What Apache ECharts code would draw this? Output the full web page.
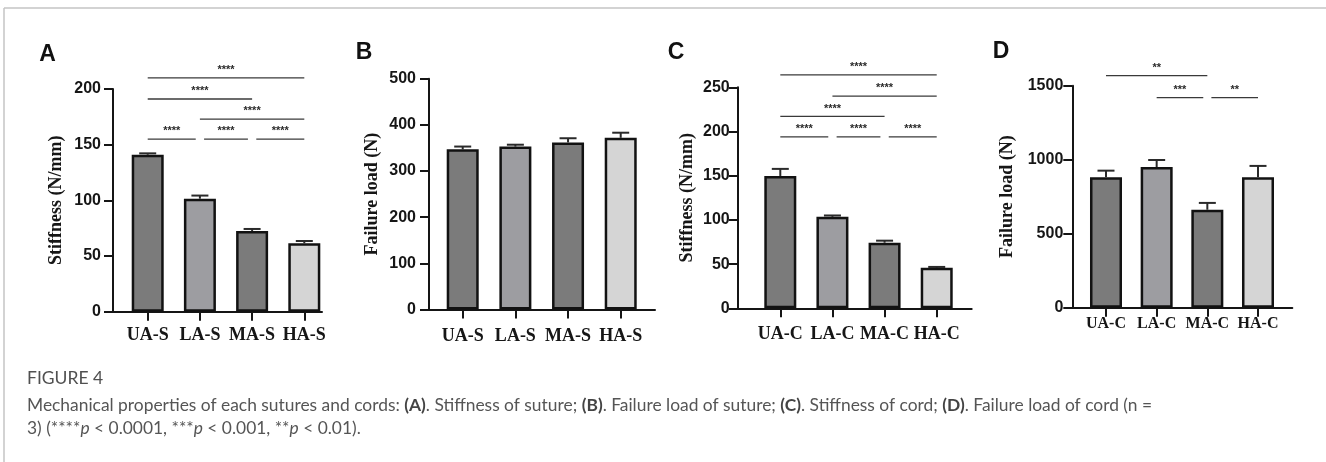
<!DOCTYPE html>
<html>
<head>
<meta charset="utf-8">
<script src="https://cdn.jsdelivr.net/npm/echarts@6/dist/echarts.min.js"></script>
<style>
html,body{margin:0;padding:0;background:#fff;}
#c{width:1326px;height:462px;}
</style>
</head>
<body>
<div id="c"></div>
<script>
// ---------------- DATA ----------------
const catsSuture = ['UA-S', 'LA-S', 'MA-S', 'HA-S'];
const catsCord = ['UA-C', 'LA-C', 'MA-C', 'HA-C'];

const stiffSuture = [141, 101.5, 72.5, 61.5];
const stiffSutureErr = [1.2, 2.8, 1.8, 2.0];

const loadSuture = [347, 353, 362, 372];
const loadSutureErr = [6, 4, 9, 11];

const stiffCord = [149.7, 103.5, 74.2, 45.8];
const stiffCordErr = [8, 1.5, 2.3, 1.0];

const loadCord = [882, 950, 662, 882];
const loadCordErr = [44, 48, 46, 76];

// significance brackets: [fromCategory, toCategory, level, label]
const sigA = [[0, 3, 210, '****'], [0, 2, 191, '****'], [1, 3, 173, '****'],
              [0, 0.92, 155, '****'], [1.08, 1.92, 155, '****'], [2.08, 3, 155, '****']];
const sigB = [];
const sigC = [[0, 3, 264, '****'], [1, 3, 240, '****'], [0, 2, 217, '****'],
              [0, 0.92, 194, '****'], [1.08, 1.92, 194, '****'], [2.08, 3, 194, '****']];
const sigD = [[0, 2, 1568, '**'], [1, 1.92, 1419, '***'], [2.08, 3, 1419, '**']];

const yTicksA = [0, 50, 100, 150, 200];
const yTicksB = [0, 100, 200, 300, 400, 500];
const yTicksC = [0, 50, 100, 150, 200, 250];
const yTicksD = [0, 500, 1000, 1500];

const panelLetters = ['A', 'B', 'C', 'D'];
const yNames = ['Stiffness (N/mm)', 'Failure load (N)', 'Stiffness (N/mm)', 'Failure load (N)'];

// ---------------- LAYOUT / STYLE ----------------
const barColors = ['#7b7b7b', '#9d9da1', '#7b7b7b', '#d5d5d5'];
const panels = [
  {cats: catsSuture, vals: stiffSuture, errs: stiffSutureErr, sig: sigA, ticks: yTicksA, interval: 50,
   left: 113, top: 89, width: 209, height: 222.7, xmin: -0.665, xmax: 3.339, nameGap: 48, xMargin: 15, yMargin: 12,
   xFont: 18, letter: [47.5, 55]},
  {cats: catsSuture, vals: loadSuture, errs: loadSutureErr, sig: sigB, ticks: yTicksB, interval: 100,
   left: 429, top: 78.7, width: 226, height: 230.8, xmin: -0.64, xmax: 3.651, nameGap: 48, xMargin: 18, yMargin: 13,
   xFont: 18, letter: [364, 53]},
  {cats: catsCord, vals: stiffCord, errs: stiffCordErr, sig: sigC, ticks: yTicksC, interval: 50,
   left: 737.7, top: 87.3, width: 234, height: 221, xmin: -0.817, xmax: 3.671, nameGap: 41, xMargin: 17, yMargin: 8,
   xFont: 18, letter: [676, 53]},
  {cats: catsCord, vals: loadCord, errs: loadCordErr, sig: sigD, ticks: yTicksD, interval: 500,
   left: 1072.3, top: 85.7, width: 220, height: 222, xmin: -0.665, xmax: 3.677, nameGap: 56, xMargin: 8, yMargin: 9,
   xFont: 16, letter: [1001, 52]}
];

const AX = '#151515';
const serif = '"Liberation Serif", "Times New Roman", serif';
const sans = '"Liberation Sans", Arial, sans-serif';
const capFont = 'Lato, sans-serif';

const grid = [], xAxis = [], yAxis = [], series = [];
panels.forEach((p, i) => {
  grid.push({left: p.left, top: p.top, width: p.width, height: p.height, containLabel: false});
  const catIdx = p.cats.map((_, k) => k);
  xAxis.push({
    gridIndex: i, type: 'value', min: p.xmin, max: p.xmax,
    splitLine: {show: false},
    axisLine: {show: true, onZero: false, lineStyle: {color: AX, width: 2}},
    axisTick: {show: true, customValues: catIdx, length: 9, lineStyle: {color: AX, width: 2}},
    axisLabel: {show: true, customValues: catIdx, margin: p.xMargin,
      formatter: v => p.cats[Math.round(v)],
      fontFamily: serif, fontWeight: 'bold', fontSize: p.xFont, color: '#161616'}
  });
  yAxis.push({
    gridIndex: i, type: 'value', min: p.ticks[0], max: p.ticks[p.ticks.length - 1], interval: p.interval,
    splitLine: {show: false},
    axisLine: {show: true, onZero: false, lineStyle: {color: AX, width: 2}},
    axisTick: {show: true, length: 9, lineStyle: {color: AX, width: 2}},
    axisLabel: {margin: p.yMargin, fontFamily: sans, fontWeight: 'bold', fontSize: 16, color: '#161616',
      formatter: v => String(v)},
    name: yNames[i], nameLocation: 'middle', nameGap: p.nameGap, nameRotate: 90,
    nameTextStyle: {fontFamily: serif, fontWeight: 'bold', fontSize: 18, color: '#161616'}
  });
  series.push({
    type: 'bar', xAxisIndex: i, yAxisIndex: i, barWidth: 32, z: 2,
    data: p.vals.map((v, k) => ({value: [k, v], itemStyle: {color: barColors[k]}})),
    itemStyle: {borderColor: '#121212', borderWidth: 2.5},
    emphasis: {disabled: true}, silent: true
  });
  series.push({
    type: 'custom', xAxisIndex: i, yAxisIndex: i, z: 1, silent: true,
    data: p.vals.map((v, k) => [k, v, v + p.errs[k]]),
    encode: {x: 0, y: [1, 2]},
    renderItem: (params, api) => {
      const a = api.coord([api.value(0), api.value(1)]);
      const b = api.coord([api.value(0), api.value(2)]);
      const hw = 8.5;
      return {type: 'group', children: [
        {type: 'line', shape: {x1: a[0], y1: a[1], x2: b[0], y2: b[1]}, style: {stroke: '#2a2a2a', lineWidth: 2}},
        {type: 'line', shape: {x1: b[0] - hw, y1: b[1], x2: b[0] + hw, y2: b[1]}, style: {stroke: '#2a2a2a', lineWidth: 2}}
      ]};
    }
  });
  if (p.sig.length) {
    series.push({
      type: 'custom', xAxisIndex: i, yAxisIndex: i, z: 3, silent: true, clip: false,
      data: p.sig.map(s => [s[0], s[1], s[2]]),
      encode: {x: [0, 1], y: 2},
      renderItem: (params, api) => {
        const a = api.coord([api.value(0), api.value(2)]);
        const b = api.coord([api.value(1), api.value(2)]);
        const lbl = p.sig[params.dataIndex][3];
        return {type: 'group', children: [
          {type: 'line', shape: {x1: a[0], y1: a[1], x2: b[0], y2: b[1]}, style: {stroke: '#3a3a3a', lineWidth: 1.3}},
          {type: 'text', x: (a[0] + b[0]) / 2, y: a[1] - 8,
           style: {text: lbl, fontFamily: sans, fontWeight: 'bold', fontSize: 11, fill: '#2a2a2a',
                   align: 'center', verticalAlign: 'middle'}}
        ]};
      }
    });
  }
});

const graphic = [
  {type: 'line', shape: {x1: 4, y1: 8, x2: 1326, y2: 8}, style: {stroke: '#c4c4c4', lineWidth: 1.5}},
  {type: 'line', shape: {x1: 4, y1: 8, x2: 4, y2: 462}, style: {stroke: '#c4c4c4', lineWidth: 1.5}},
  {type: 'text', x: 27, y: 378, style: {text: 'FIGURE 4', fontFamily: capFont, fontSize: 17.5,
    fill: '#505050', verticalAlign: 'middle'}},
  {type: 'text', x: 27, y: 405, style: {
    text: 'Mechanical properties of each sutures and cords: {b|(A)}. Stiffness of suture; {b|(B)}. Failure load of suture; {b|(C)}. Stiffness of cord; {b|(D)}. Failure load of cord (n =',
    fontFamily: capFont, fontSize: 17.4, fill: '#555', verticalAlign: 'middle',
    rich: {b: {fontFamily: capFont, fontSize: 17.4, fontWeight: 'bold', fill: '#444'}}}},
  {type: 'text', x: 27, y: 428, style: {
    text: '3) (****{i|p} < 0.0001, ***{i|p} < 0.001, **{i|p} < 0.01).',
    fontFamily: capFont, fontSize: 17.4, fill: '#555', verticalAlign: 'middle',
    rich: {i: {fontFamily: capFont, fontSize: 17.4, fontStyle: 'italic', fill: '#555'}}}}
];
panels.forEach((p, i) => {
  graphic.push({type: 'text', x: p.letter[0], y: p.letter[1],
    style: {text: panelLetters[i], fontFamily: sans, fontWeight: 'bold', fontSize: 23, fill: '#111',
            align: 'center', verticalAlign: 'middle'}});
});

const chart = echarts.init(document.getElementById('c'), null, {renderer: 'canvas'});
chart.setOption({
  animation: false,
  backgroundColor: '#fff',
  grid, xAxis, yAxis, series, graphic
});
</script>
</body>
</html>
